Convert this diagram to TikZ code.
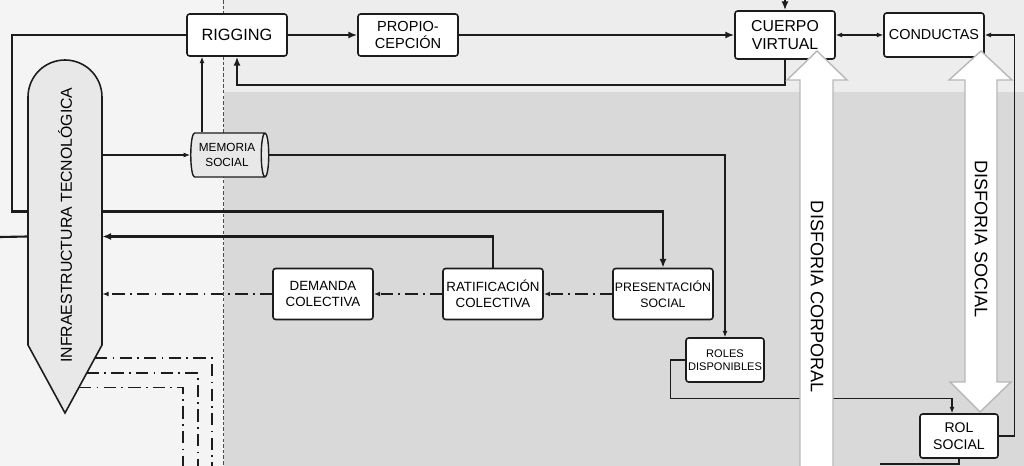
\documentclass[tikz,border=0pt]{standalone}
\usepackage{fontspec}
\setmainfont{Liberation Sans}
\usetikzlibrary{positioning,shapes.geometric,arrows.meta,calc}
\definecolor{bgwhite}{HTML}{F4F4F4}
\definecolor{bandgray}{HTML}{EDEDED}
\definecolor{zonegray}{HTML}{D9D9D9}
\definecolor{inkline}{HTML}{1C1C1C}
\definecolor{infrafill}{HTML}{E8E8E8}
\definecolor{arrowedge}{HTML}{B8B8B8}
\tikzset{
  box/.style={draw=inkline, fill=white, line width=0.9pt, rounded corners=1.5pt,
    align=center, inner sep=1pt, minimum width=2cm, minimum height=0.86cm},
  smallbox/.style={box, minimum width=1.56cm, minimum height=0.88cm},
  heavy/.style={draw=inkline, line width=1.2pt, >={Latex[length=5pt,width=4pt]}},
  light/.style={draw=inkline, line width=0.6pt, >={Latex[length=3.6pt,width=2.8pt]}},
  ddline/.style={draw=inkline, line width=0.7pt, dash pattern=on 7pt off 3pt on 1pt off 3pt,
    >={Latex[length=3.6pt,width=2.8pt]}},
  bigarrow/.style={fill=white, draw=arrowedge, line width=0.8pt},
  biglabel/.style={rotate=-90, font=\fontsize{10.3}{12}\selectfont}
}

\begin{document}
\begin{tikzpicture}[x=0.02cm, y=-0.02cm]
  \useasboundingbox (0,0) rectangle (1024,466);
  % zones
  \fill[bgwhite] (0,0) rectangle (1024,466);
  \fill[bandgray] (223,0) rectangle (1024,92);
  \fill[zonegray] (224,92) rectangle (1024,466);
  \draw[black!70, line width=0.5pt, dash pattern=on 2pt off 1.2pt] (223,0) -- (223,466);

  % infraestructura
  \draw[draw=inkline, line width=0.9pt, fill=infrafill] (28,345) -- (28,97)
    arc[start angle=180, end angle=360, radius=37] -- (102,345) -- (65,413) -- cycle;
  \node[inner sep=0, minimum width=1.48cm, minimum height=7.06cm] (infra) at (65,236.5) {};
  \node[rotate=90, font=\fontsize{9}{10}\selectfont] (infratxt) at (65,225) {INFRAESTRUCTURA TECNOLÓGICA};
  \coordinate (shoulder) at (102,345);

  \node[box, minimum height=0.84cm, font=\fontsize{9.3}{10}\selectfont] (rig) at (237,35) {RIGGING};
  \node[box, minimum height=0.84cm, font=\fontsize{8.3}{9.4}\selectfont] (prop) at (408,35) {PROPIO-\\CEPCIÓN};
  \node[box, minimum height=0.96cm, font=\fontsize{9}{10.2}\selectfont] (cuerpo) at (785,35) {CUERPO\\VIRTUAL};
  \node[box, minimum height=0.88cm, font=\fontsize{8.2}{9}\selectfont] (cond) at (934,35) {CONDUCTAS};
  \node[cylinder, draw=inkline, line width=0.8pt, fill=infrafill, aspect=0.3, inner sep=0.5pt,
    minimum height=1.56cm, minimum width=0.88cm, align=center,
    font=\fontsize{6.7}{8.5}\selectfont] (mem) at (227,155) {MEMORIA\\SOCIAL};
  \node[box, minimum height=1.02cm, font=\fontsize{7.6}{9}\selectfont] (dem) at (323,294) {DEMANDA\\COLECTIVA};
  \node[box, minimum height=1.02cm, font=\fontsize{7.6}{9}\selectfont] (ratif) at (493,294) {RATIFICACIÓN\\COLECTIVA};
  \node[box, minimum height=1.02cm, font=\fontsize{7}{9}\selectfont] (pres) at (663,294) {PRESENTACIÓN\\SOCIAL};
  \node[smallbox, font=\fontsize{6.3}{7.5}\selectfont] (roles) at (725,360) {ROLES\\DISPONIBLES};
  \node[smallbox, font=\fontsize{8}{10}\selectfont] (rolsoc) at (959,436) {ROL\\SOCIAL};

  \coordinate (leftend) at (0,237);
  \coordinate (topend) at (785,0);
  \coordinate (botend) at (880,464);

  % thick flows
  \draw[heavy] ($(infra.west)+(0,-25)$) -- ++(-16,0) |- (rig.west);
  \draw[heavy] (infra.west) -- (leftend);
  \draw[heavy,->] ($(infra.east)+(0,-25)$) -| (pres.north);
  \draw[heavy,->] (ratif.north) |- (infra.east);
  \draw[heavy,->] (rig) -- (prop);
  \draw[heavy,->] (prop) -- (cuerpo);
  \draw[heavy,->] (topend) -- (cuerpo);
  \draw[heavy,->] (cuerpo.south) -- ++(0,25) -| (rig.south);
  \draw[heavy] (rolsoc.south) |- (botend);

  % thin flows
  \draw[light,<->] (cuerpo) -- (cond);
  \draw[light,->] (rolsoc.east) -- ++(16,0) |- (cond.east);
  \draw[light,->] (infra.east |- mem.west) -- (mem.west);
  \draw[light,->] ($(mem.north)+(-25,0)$) coordinate (m1) -- (m1 |- rig.south);
  \draw[light,->] (mem.east) -| (roles.north);
  \draw[light,->] (roles.west) -- ++(-15,0) |- ($(rolsoc.north)+(-7,-15)$) -- ($(rolsoc.north)+(-7,0)$);

  % demandas
  \draw[ddline,->] (pres) -- (ratif);
  \draw[ddline,->] (ratif) -- (dem);
  \draw[ddline,->] (dem) -- (dem -| infra.east);
  \foreach \t/\x in {0.19/212,0.41/198,0.62/183}
    \draw[ddline] ($(shoulder)!\t!(infra.south)$) -| (\x,470);

  % disforias
  \draw[bigarrow] (800,470) -- (800,80) -- (787,80) -- (817,51) -- (847,80) -- (833,80) -- (833,470);
  \node[biglabel] (dcorp) at (817,297) {DISFORIA CORPORAL};
  \draw[bigarrow] (965,80) -- (949,80) -- (981,51) -- (1012,80) -- (997,80) -- (997,382)
    -- (1011,382) -- (980,412) -- (950,382) -- (965,382) -- cycle;
  \node[biglabel] (dsoc) at (981,239) {DISFORIA SOCIAL};
\end{tikzpicture}
\end{document}
